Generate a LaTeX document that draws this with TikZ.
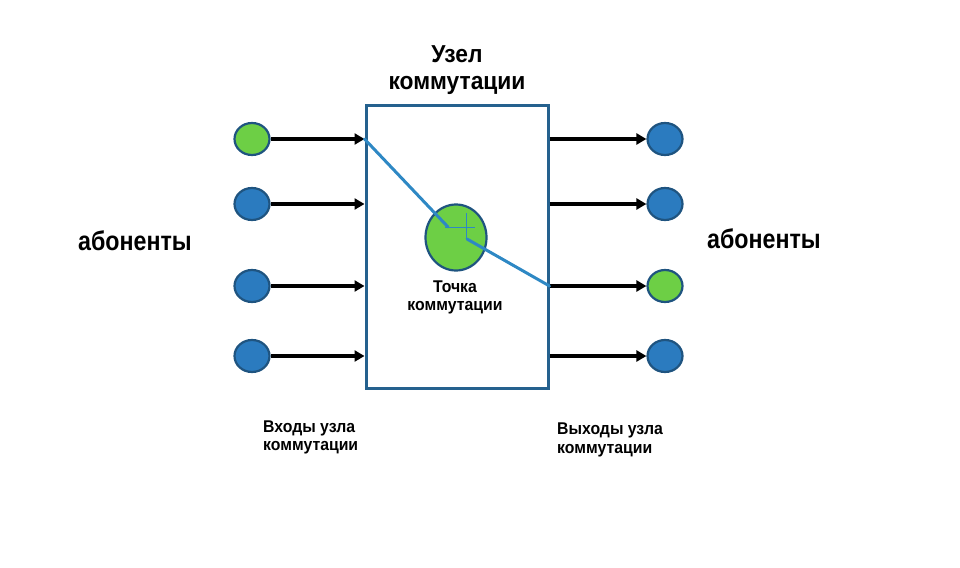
\documentclass[tikz,border=0pt]{standalone}
\usepackage{fontspec}
\setmainfont{Liberation Sans}
\newfontfamily\bigfont[FakeStretch=0.86]{Liberation Sans}
\newfontfamily\titlefont[FakeStretch=0.93]{Liberation Sans}
\newfontfamily\smallfont[FakeStretch=0.93]{Liberation Sans}
\usetikzlibrary{shapes.geometric,arrows.meta}
\definecolor{subblue}{HTML}{2B7BBF}
\definecolor{subgreen}{HTML}{6DCF45}
\definecolor{edgeblue}{HTML}{1F5480}
\definecolor{boxblue}{HTML}{25618E}
\definecolor{linkblue}{HTML}{2E88C4}
\tikzset{
  sub/.style={ellipse, draw=edgeblue, line width=2.2pt, minimum width=35pt, minimum height=32pt, inner sep=0pt},
  subB/.style={sub, fill=subblue},
  subG/.style={sub, fill=subgreen},
  feed/.style={line width=3.2pt, draw=black, -{Triangle[length=10pt,width=11pt]}, shorten >=0pt},
  link/.style={line width=3pt, draw=linkblue, line cap=round},
  big/.style={font=\bigfont\bfseries\fontsize{27}{30}\selectfont, inner sep=0pt},
  title/.style={font=\titlefont\bfseries\fontsize{24.5}{30}\selectfont, inner sep=0pt, anchor=base},
  small/.style={font=\smallfont\bfseries\fontsize{17}{20}\selectfont, inner sep=0pt},
}
\begin{document}
\begin{tikzpicture}[x=1pt,y=-1pt]
\useasboundingbox (0,0) rectangle (960,567);
% switching node box
\node[draw=boxblue, line width=3pt, minimum width=182pt, minimum height=282pt, inner sep=0pt] (box) at (457,247) {};
% subscribers left
\node[subG] (l1) at (252,139) {};
\node[subB] (l2) at (252,204) {};
\node[subB] (l3) at (252,286) {};
\node[subB] (l4) at (252,356) {};
% subscribers right
\node[subB] (r1) at (665,139) {};
\node[subB] (r2) at (665,204) {};
\node[subG] (r3) at (665,286) {};
\node[subB] (r4) at (665,356) {};
% arrows
\foreach \i in {1,2,3,4} {
  \draw[feed] (l\i.east) -- (l\i -| box.west);
  \draw[feed] (r\i -| box.east) -- (r\i.west);
}
% switching point
\node[ellipse, draw=edgeblue, line width=2.2pt, fill=subgreen, minimum width=61pt, minimum height=66pt, inner sep=0pt] (sp) at (456,237.5) {};
\coordinate (inA) at (l1 -| box.west);
\coordinate (outA) at (r3 -| box.east);
\coordinate (pA) at (448,227);
\coordinate (pB) at (467,239);
\coordinate (hL) at (445,227);
\coordinate (hR) at (475,227);
\coordinate (vT) at (466,213);
\coordinate (vB) at (466,238);
\draw[link] (inA) -- (pA);
\draw[linkblue, line width=1pt] (hL) -- (hR);
\draw[linkblue, line width=1pt] (vT) -- (vB);
\draw[link] (pB) -- (outA);
% texts
\node[title] (title1) at (457,63) {Узел};
\node[title] (title2) at (457,90) {коммутации};
\node[big, anchor=base west] (abL) at (78,250) {абоненты};
\node[big, anchor=base west] (abR) at (707,248) {абоненты};
\node[small, anchor=base] (tp1) at (455,292) {Точка};
\node[small, anchor=base] (tp2) at (455,310) {коммутации};
\node[small, anchor=base west] (in1) at (263,432) {Входы узла};
\node[small, anchor=base west] (in2) at (263,450) {коммутации};
\node[small, anchor=base west] (out1) at (557,434) {Выходы узла};
\node[small, anchor=base west] (out2) at (557,453) {коммутации};
\end{tikzpicture}
\end{document}
